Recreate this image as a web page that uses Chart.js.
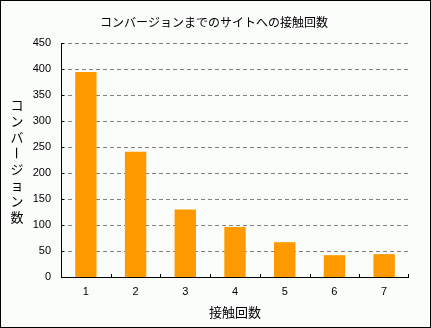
<!DOCTYPE html>
<html>
<head>
<meta charset="utf-8">
<script src="https://cdn.jsdelivr.net/npm/chart.js@4"></script>
<style>
  body { margin: 0; background: #fff; }
  #wrap { width: 431px; height: 328px; }
</style>
</head>
<body>
<div id="wrap"><canvas id="myChart" width="431" height="328"></canvas></div>
<script>
var contacts = ['1', '2', '3', '4', '5', '6', '7'];
var conversions = [394, 241, 130, 96, 67, 42, 44];
var yTicks = [0, 50, 100, 150, 200, 250, 300, 350, 400, 450];

var chartTitle = 'コンバージョンまでのサイトへの接触回数';
var xTitle = '接触回数';
var yTitle = 'コンバージョン数';

var jp = "'Noto Sans CJK JP', 'Noto Sans', sans-serif";

// background, frame, inner ticks, main title and the vertical y title
var decor = {
  id: 'decor',
  beforeDraw: function(chart) {
    var c = chart.ctx;
    c.save();
    c.fillStyle = '#fbfdfb';
    c.fillRect(0, 0, chart.width, chart.height);
    c.restore();
  },
  afterDraw: function(chart) {
    var c = chart.ctx;
    var area = chart.chartArea;
    var x = chart.scales.x, y = chart.scales.y;
    c.save();
    c.setLineDash([]);
    c.strokeStyle = '#000';
    c.lineWidth = 1;
    c.beginPath();
    // y axis line and x axis line, solid
    c.moveTo(Math.round(area.left) + 0.5, area.top);
    c.lineTo(Math.round(area.left) + 0.5, Math.round(area.bottom) + 0.5);
    c.lineTo(area.right, Math.round(area.bottom) + 0.5);
    yTicks.forEach(function(v) {
      var py = Math.round(y.getPixelForValue(v)) + 0.5;
      c.moveTo(area.left, py);
      c.lineTo(area.left + 3, py);
    });
    for (var i = 1; i <= contacts.length; i++) {
      var px;
      if (i === contacts.length) px = Math.round(area.right) - 1;
      else px = Math.round((x.getPixelForValue(i - 1) + x.getPixelForValue(i)) / 2);
      c.moveTo(px + 0.5, area.bottom);
      c.lineTo(px + 0.5, area.bottom - 3);
    }
    c.stroke();

    c.fillStyle = '#000';
    c.textAlign = 'center';
    c.textBaseline = 'middle';

    // main title
    c.font = '12px ' + jp;
    c.fillText(chartTitle, 214, 22);

    // vertical y title
    c.font = '13px ' + jp;
    yTitle.split('').forEach(function(ch, k) {
      var cy = 105 + k * 16;
      if (ch === 'ー') {
        c.save();
        c.translate(17, cy);
        c.rotate(Math.PI / 2);
        c.fillText(ch, 0, 0);
        c.restore();
      } else {
        c.fillText(ch, 17, cy);
      }
    });

    c.strokeRect(0.5, 0.5, chart.width - 1, chart.height - 1);
    c.restore();
  }
};

var ctx = document.getElementById('myChart');

var chart = new Chart(ctx, {
  type: 'bar',
  data: {
    labels: contacts,
    datasets: [{
      label: yTitle,
      data: conversions,
      backgroundColor: '#ff9900',
      borderWidth: 0,
      barPercentage: 0.43,
      categoryPercentage: 1
    }]
  },
  options: {
    responsive: false,
    animation: false,
    layout: { padding: { left: 0, right: 22, top: 43, bottom: 0 } },
    plugins: {
      legend: { display: false },
      tooltip: { enabled: false },
      title: { display: false }
    },
    scales: {
      x: {
        grid: { display: false, drawTicks: false },
        border: { display: false },
        ticks: { color: '#000', padding: 8, font: { family: 'Liberation Sans', size: 11 } },
        title: {
          display: true,
          text: xTitle,
          color: '#000',
          font: { family: jp, size: 13 },
          padding: { top: 4, bottom: 8 }
        },
        afterFit: function(scale) { scale.height = 51; }
      },
      y: {
        min: 0,
        max: 450,
        afterBuildTicks: function(scale) {
          scale.ticks = yTicks.map(function(v) { return { value: v }; });
        },
        grid: {
          color: '#808080',
          drawTicks: false,
          lineWidth: function(c) { return c.tick && c.tick.value === 0 ? 0 : 1; }
        },
        border: { display: false, dash: [4, 3] },
        ticks: { color: '#000', padding: 10, font: { family: 'Liberation Sans', size: 11 } },
        afterFit: function(scale) { scale.width = 61; }
      }
    }
  },
  plugins: [decor]
});
</script>
</body>
</html>
